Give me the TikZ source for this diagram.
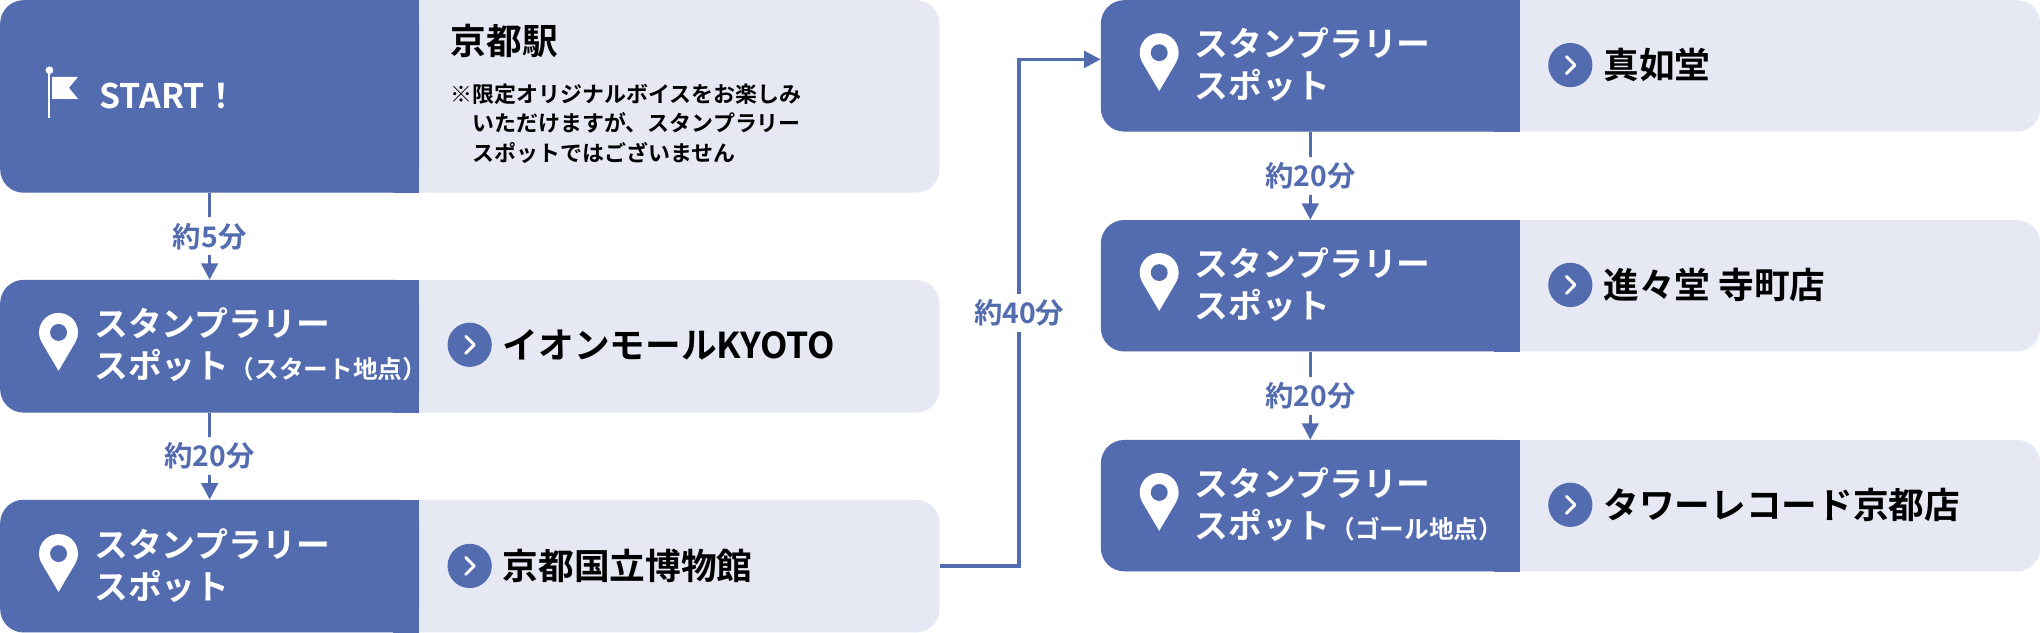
\documentclass[tikz,border=0pt]{standalone}
\usepackage{fontspec}
\setmainfont{Noto Sans CJK JP}[BoldFont={* Bold}]
\usetikzlibrary{positioning}
\usetikzlibrary{arrows.meta}
\usepackage{xcolor}
\definecolor{navy}{HTML}{536BAF}
\definecolor{pale}{HTML}{E6E8F3}
\tikzset{
  lightbox/.style={fill=pale, rounded corners=9mm, minimum width=361mm, anchor=north west, inner sep=0},
  darkbox/.style={fill=navy, rounded corners=9mm, minimum width=161mm, anchor=north west, inner sep=0},
  spottext/.style={anchor=west, align=left, text=white, font=\bfseries\fontsize{37}{46}\selectfont},
  placetext/.style={anchor=west, text=black, font=\bfseries\fontsize{39}{46}\selectfont},
  timetext/.style={fill=white, text=navy, font=\bfseries\fontsize{31}{33}\selectfont, inner sep=6pt},
  flow/.style={draw=navy, line width=3.6pt, -{Triangle[length=18pt,width=18pt]}},
}
\newcommand{\pin}[1]{%
  \begin{scope}[shift={#1}]
    \fill[white] (0,23) -- (-13,1) arc[start angle=150,end angle=390,radius=15] -- cycle;
    \fill[navy] (0,-6.5) circle[radius=6.5];
  \end{scope}}
\newcommand{\chev}[1]{%
  \begin{scope}[shift={#1}]
    \fill[navy] (0,0) circle[radius=17];
    \draw[white, line width=3.2pt, line cap=round, line join=round] (-3,-6.5) -- (3.5,0) -- (-3,6.5);
  \end{scope}}
\newcommand{\sharpen}[1]{\fill[navy] ([xshift=-10mm]#1.north east) rectangle (#1.south east);}
\begin{document}
\begin{tikzpicture}[x=0.5mm,y=-0.5mm]
   \useasboundingbox (0,0) rectangle (1568,486);
   % left column
   \node[lightbox, minimum height=74mm] (kyoto_bg) at (0,0) {};
   \node[darkbox, minimum height=74mm] (start) at (0,0) {}; \sharpen{start}
   \node[lightbox, minimum height=51mm] (aeon_bg) at (0,215) {};
   \node[darkbox, minimum height=51mm] (aeon) at (0,215) {}; \sharpen{aeon}
   \node[lightbox, minimum height=51mm] (museum_bg) at (0,384) {};
   \node[darkbox, minimum height=51mm] (museum) at (0,384) {}; \sharpen{museum}
   % right column
   \node[lightbox, minimum height=50.5mm] (shinnyo_bg) at (846,0) {};
   \node[darkbox, minimum height=50.5mm] (shinnyo) at (846,0) {}; \sharpen{shinnyo}
   \node[lightbox, minimum height=50.5mm] (shinshindo_bg) at (846,169) {};
   \node[darkbox, minimum height=50.5mm] (shinshindo) at (846,169) {}; \sharpen{shinshindo}
   \node[lightbox, minimum height=50.5mm] (tower_bg) at (846,338) {};
   \node[darkbox, minimum height=50.5mm] (tower) at (846,338) {}; \sharpen{tower}
   % start
   \draw[white, line width=2.2pt] (38,54) -- (38,91);
   \fill[white] (38,54) circle[radius=3];
   \fill[white] (40,59) -- (60,59) -- (53,67.5) -- (60,76) -- (40,76) -- cycle;
   \node[spottext] (start_lbl) at (74,74) {START！};
   \node[placetext, anchor=north west] (kyoto) at (344,16) {京都駅};
   \node[anchor=north west, align=left, font=\bfseries\fontsize{24}{32}\selectfont] (kyoto_note) at (344,62)
     {※限定オリジナルボイスをお楽しみ\\\hspace{1em}いただけますが、スタンプラリー\\\hspace{1em}スポットではございません};
   % spots
   \foreach \bx/\cy/\sub/\place in {0/265/（スタート地点）/イオンモールKYOTO, 0/435//京都国立博物館,
       846/50//真如堂, 846/219//進々堂\ 寺町店, 846/388/（ゴール地点）/タワーレコード京都店} {
     \pin{(\bx+45,\cy-3)}
     \node[spottext] at (\bx+70,\cy) {スタンプラリー\\スポット{\fontsize{27}{30}\selectfont\sub}};
     \chev{(\bx+361,\cy)}
     \node[placetext] at (\bx+384,\cy) {\place};
   }
   % connectors
   \draw[flow] (start.south) -- node[timetext] {約5分} (aeon.north);
   \draw[flow] (aeon.south) -- node[timetext] {約20分} (museum.north);
   \draw[flow] (shinnyo.south) -- node[timetext] {約20分} (shinshindo.north);
   \draw[flow] (shinshindo.south) -- node[timetext] {約20分} (tower.north);
   \draw[flow] (museum_bg.east) -- ++(61,0) |- node[timetext, pos=0.25] {約40分} ([yshift=2.5mm]shinnyo.west);
\end{tikzpicture}
\end{document}
